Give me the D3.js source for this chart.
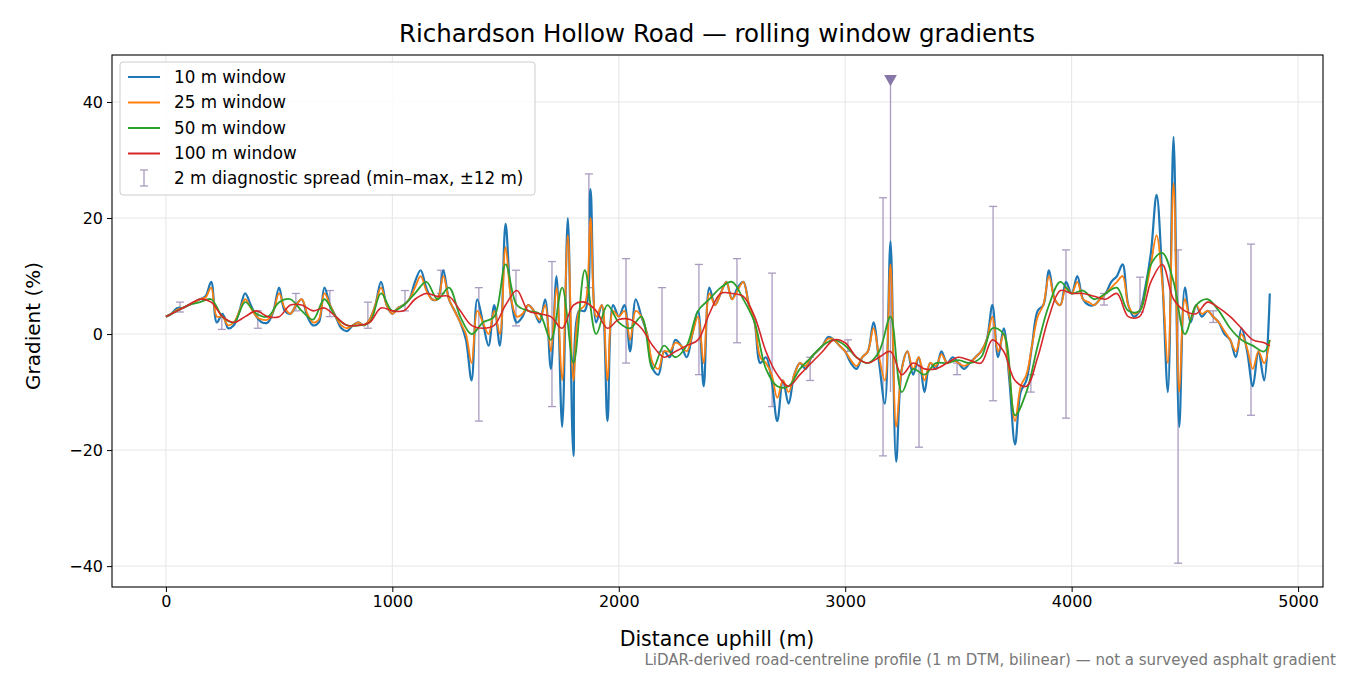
<!DOCTYPE html>
<html><head><meta charset="utf-8">
<script src="https://cdn.jsdelivr.net/npm/d3@7"></script>
<style>body{margin:0;background:#fff;font-family:"DejaVu Sans",sans-serif}</style>
</head><body><svg id="c" width="1350" height="675"></svg>
<script>
const step25 = d3.range(0, 4876, 25);
const w10 = [3,3.5,4.5,4.5, 5,5.5,6,6.5, 9,2,3.5,1, 1.5,4,7,5, 3,2,2,4, 8,4,3.5,5, 6,3,1.5,2, 8,5,3,1,
 0.5,1.5,2,1.5, 2.5,5,9,5, 3.5,4.5,5,6, 9,11,8,6, 6,11,6,4, 2,-1,-8,6, 2,-2,5,-2, 19,6,2,3, 5,4,2,6,
 -6,10,-16,20, -21,4,4,25, 2,5,-15,5, 3,5,-3,6, 3,0,-6,-7, -3,-4,-1,-2, -4,0,4,-9, 8,5,7,9, 6,8,9,5,
 2,-5,-4,-8, -15,-8,-12,-7, -5,-6,-4,-3, -2,-0.5,-1,-2, -3,-5,-6,-4, -3,2,-5,-12, 16,-22,-6,-3,
 -7,-4,-10,-5, -6,-3,-5,-4, -5,-6,-5,-4, -3,-1,5,-4, 1,-8,-19,-10, -8,-2,4,5, 11,6,5,9, 7,10,6,5,
 5,6,7,9, 10,12,5,3, 4,8,14,24, 10,-10,34,-16, 8,2,5,3, 4,3,2,0, -1,-4,1,-3, -9,-3,-8,7];
const w25 = [3,3.5,4.2,4.5, 5,5.5,6,6.3, 8,3,3,1.5, 2,4,6,4.5, 3,2.5,2.5,4, 7,4.5,3.5,5, 6,3.5,2,2.5, 7,5,3,1.5,
 1,1.5,2,1.5, 2.5,5,8,5, 3.5,4.5,5,6, 8,10,7.5,6, 6,10,6,4, 2,0,-5,4, 2,0,4,0, 15,6,3,3.5, 5,4,2.5,5,
 -3,8,-8,17, -8,4,5,20, 3,5,-8,4, 3,4,-1,4, 3,0,-5,-6, -3,-3,-1.5,-2, -3,0,3,-5, 7,5,7,9, 6,7.5,9,5,
 2,-4,-5,-7, -11,-8,-10,-7, -5,-5.5,-4,-3, -2,-0.8,-1,-2, -3,-4.5,-5.5,-4, -3,1,-4,-8, 12,-16,-6,-3,
 -6,-4,-8,-5, -5.5,-3.5,-5,-4.5, -5,-5.5,-5,-4, -3,-1,3,-3, 0,-7,-15,-9, -7,-2,3,5, 10,6,5,8, 7,9,6,5.5,
 5,6,7,8, 9,10,5,3.5, 4,7,12,17, 9,-5,26,-10, 6,2.5,5,3.5, 4,3,2,0.5, -1,-3,0,-2.5, -6,-3,-5,-1];
const step50 = d3.range(0, 4851, 50).concat([4875]);
const w50 = [3,4,5,5.5,6,3,2,5.5,3.5,3,5.5,6,4,2.5,6,3,1.5,1.5,2,7,4,5,7,9,6,8,3,0,2,3,12,5,4,3.5,-1,8,-5,11,0,5,
 2,1,3,-6,-2,-4,-2,4,6,8,9,6,2,-6,-9,-9,-6,-4,-2,-1,-2,-4,-5,-3,3,-10,-6,-7,-5,-5,-4.5,-5,-4,1,0,-14,-10,-2,5,9,
 7,7.5,6,7,8,4,4,12,14,9,0,5,6,4,1,-1,-2,-3,-1];
const w100 = [3,4,5,6,5.5,3,2,3,4,3,3,5,5,4,4.5,3,1.5,1.5,2,4.5,4,4,6,7,6.5,6.5,4,1.5,1,1.5,5,7.5,4,3.5,3,1,5,5.5,4,1,
 2.5,2.5,1,-2,-4,-3,-2,-1,3.5,7,7,6.5,3,-3,-7,-9,-7,-5,-3,-1,-1.5,-4,-5,-4,-3,-7,-5,-6,-6,-5,-4,-4.5,-5,-1,-3,-8,-9,-4,3,7.5,
 7,7,6.5,6,7,3,3,9,12,6,4,3.5,5.5,4.5,3,1,-1,-1.5,-2];
const barX   = [62,247,406,574,724,892,1056,1215,1382,1546,1705,1868,2032,2191,2354,2522,2677,2845,3012,3167,3326,3494,3653,3820,3975,4143,4302,4470,4625,4792];
const barMin = [3.8,0.8,1,4,3,1,4,7,-15,1.4,-12.5,8,-5,-3,-7,-1.5,-12.5,-8,-3,-21,-19.5,-7,-11.5,-10,-14.5,5,3.8,-39.5,2,-14];
const barMax = [5.5,3,4,7,7.5,5.5,7.5,11,8,11,12.5,27.6,13,8,12,13,10.5,-4,-1,23.5,-5.5,-5,22,-7,14.5,7,9.8,14.5,4,15.5];
const offX = [3200], offMin = [-10], offMarker = [44];
const xTicks = [0,1000,2000,3000,4000,5000], yTicks = [-40,-20,0,20,40];
const series = [
 {name:"10 m window", xs:step25, ys:w10, color:"#1f77b4", w:2.2},
 {name:"25 m window", xs:step25, ys:w25, color:"#ff7f0e", w:1.8},
 {name:"50 m window", xs:step50, ys:w50, color:"#2ca02c", w:1.8},
 {name:"100 m window", xs:step50, ys:w100, color:"#d62728", w:1.6}];

const svg = d3.select("#c");
const L=112,R=1323,T=55,B=587;
const x = d3.scaleLinear().domain([-238,5110]).range([L,R]);
const y = d3.scaleLinear().domain([-43.6,48.1]).range([B,T]);
const g = svg.append("g");
g.selectAll(".gx").data(xTicks).join("line").attr("x1",d=>x(d)).attr("x2",d=>x(d)).attr("y1",T).attr("y2",B).attr("stroke","#e6e6e6");
g.selectAll(".gy").data(yTicks).join("line").attr("y1",d=>y(d)).attr("y2",d=>y(d)).attr("x1",L).attr("x2",R).attr("stroke","#e6e6e6");
svg.append("defs").append("clipPath").attr("id","cp").append("rect").attr("x",L).attr("y",T).attr("width",R-L).attr("height",B-T);
const pg = svg.append("g").attr("clip-path","url(#cp)");
const bc = "#a99bc0";
barX.forEach((bx,i)=>{
  pg.append("line").attr("x1",x(bx)).attr("x2",x(bx)).attr("y1",y(barMin[i])).attr("y2",y(barMax[i])).attr("stroke",bc).attr("stroke-width",1.3);
  [barMin[i],barMax[i]].forEach(v=>pg.append("line").attr("x1",x(bx)-4).attr("x2",x(bx)+4).attr("y1",y(v)).attr("y2",y(v)).attr("stroke",bc).attr("stroke-width",1.3));
});
offX.forEach((ox,i)=>{
  pg.append("line").attr("x1",x(ox)).attr("x2",x(ox)).attr("y1",y(offMin[i])).attr("y2",y(offMarker[i])).attr("stroke",bc).attr("stroke-width",1.3);
  pg.append("path").attr("d",d3.symbol(d3.symbolTriangle,70)()).attr("transform",`translate(${x(ox)},${y(offMarker[i])}) rotate(180)`).attr("fill","#8677a8");
});
series.forEach(s=>{
  const line = d3.line().x((d,i)=>x(s.xs[i])).y(d=>y(d)).curve(d3.curveCatmullRom);
  pg.append("path").datum(s.ys).attr("d",line).attr("fill","none").attr("stroke",s.color).attr("stroke-width",s.w).attr("stroke-linejoin","round");
});
svg.append("rect").attr("x",L).attr("y",T).attr("width",R-L).attr("height",B-T).attr("fill","none").attr("stroke","#000").attr("stroke-width",1.1);
const xa = svg.append("g").attr("transform",`translate(0,${B})`).call(d3.axisBottom(x).tickValues(xTicks).tickSize(5).tickPadding(4).tickFormat(d3.format("d")));
const ya = svg.append("g").attr("transform",`translate(${L},0)`).call(d3.axisLeft(y).tickValues(yTicks).tickSize(5).tickPadding(4).tickFormat(d=>d<0?"\u2212"+(-d):d));
[xa,ya].forEach(a=>{a.select(".domain").remove();a.selectAll("text").attr("font-size",16).attr("fill","#000").attr("font-family","DejaVu Sans");});
svg.append("text").attr("x",717).attr("y",42).attr("text-anchor","middle").attr("font-size",24.5).text("Richardson Hollow Road \u2014 rolling window gradients");
svg.append("text").attr("x",717).attr("y",646).attr("text-anchor","middle").attr("font-size",20.5).text("Distance uphill (m)");
svg.append("text").attr("transform","translate(40,326) rotate(-90)").attr("text-anchor","middle").attr("font-size",20).text("Gradient (%)");
svg.append("text").attr("x",1336).attr("y",665).attr("text-anchor","end").attr("font-size",15).attr("fill","#777").text("LiDAR-derived road-centreline profile (1 m DTM, bilinear) \u2014 not a surveyed asphalt gradient");
const lg = svg.append("g");
lg.append("rect").attr("x",120).attr("y",62).attr("width",415).attr("height",133).attr("rx",3).attr("fill","#fff").attr("fill-opacity",0.85).attr("stroke","#ccc");
series.forEach((s,i)=>{
  const yy = 77+i*25.5;
  lg.append("line").attr("x1",128).attr("x2",160).attr("y1",yy).attr("y2",yy).attr("stroke",s.color).attr("stroke-width",2);
  lg.append("text").attr("x",174).attr("y",yy+5.5).attr("font-size",16.8).text(s.name);
});
const ey = 178;
lg.append("line").attr("x1",144).attr("x2",144).attr("y1",ey-8).attr("y2",ey+8).attr("stroke",bc).attr("stroke-width",1.3);
[ey-8,ey+8].forEach(v=>lg.append("line").attr("x1",140).attr("x2",148).attr("y1",v).attr("y2",v).attr("stroke",bc).attr("stroke-width",1.3));
lg.append("text").attr("x",174).attr("y",ey+5.5).attr("font-size",16.8).text("2 m diagnostic spread (min\u2013max, \u00b112 m)");
</script></body></html>
